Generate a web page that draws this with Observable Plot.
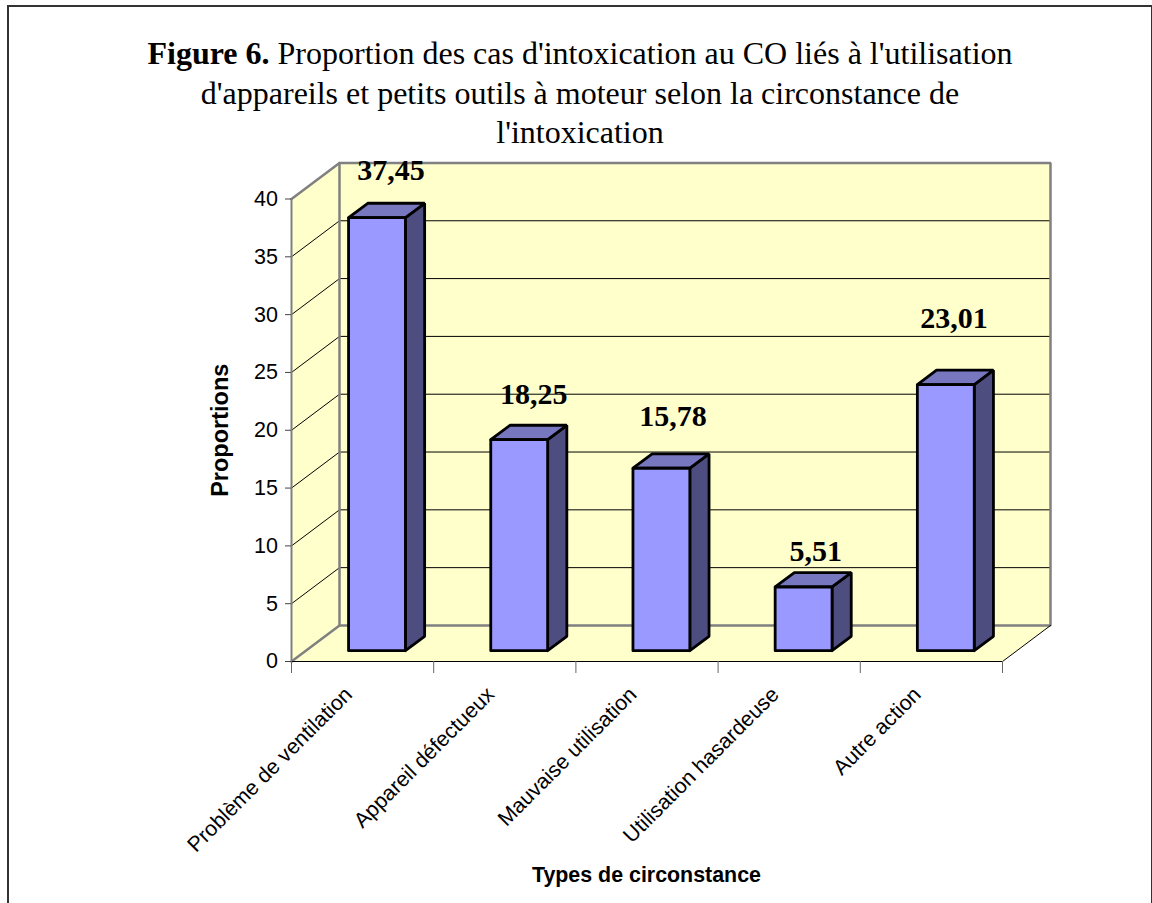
<!DOCTYPE html>
<html lang="fr">
<head>
<meta charset="utf-8">
<script src="https://cdn.jsdelivr.net/npm/d3@7"></script>
<script src="https://cdn.jsdelivr.net/npm/@observablehq/plot@0.6"></script>
<style>
html,body{margin:0;padding:0;background:#fff;}
#frame{position:absolute;left:7px;top:5px;width:1142px;height:898px;border:2px solid #333;border-bottom:none;pointer-events:none;}
#title{box-sizing:border-box;height:130px;padding:34px 0 0 8px;width:1152px;text-align:center;font-family:"Liberation Serif",serif;font-size:32px;line-height:39.5px;color:#000;overflow:visible;}
#chart svg{display:block;background:transparent;}
</style>
</head>
<body>
<div id="frame"></div>
<div id="title"><b>Figure 6.</b> Proportion des cas d'intoxication au CO liés à l'utilisation<br>d'appareils et petits outils à moteur selon la circonstance de<br>l'intoxication</div>
<div id="chart"></div>
<script>
const categories = ["Problème de ventilation","Appareil défectueux","Mauvaise utilisation","Utilisation hasardeuse","Autre action"];
const values = [37.45,18.25,15.78,5.51,23.01];
const valueLabels = ["37,45","18,25","15,78","5,51","23,01"];
const yTicks = [0,5,10,15,20,25,30,35,40];
const xBoundaries = [0,1,2,3,4,5];
const gridValues = [5,10,15,20,25,30,35];

// oblique projection of the 3D box, in scale units
const depthX = 48 / 142.2;
const depthY = 36 / 11.55;
const P = (x, d, v) => ({x: x + d * depthX, y: v + d * depthY});
const barHalf = 0.2, d0 = 0.3, d1 = 0.7;

// nudges of the hand-placed value labels (px)
const labelDx = [28.5,29,26,26.6,22.6];
const labelDy = [-58,-56.5,-62.5,-46.5,-77];

const face = (pts, o) => Plot.line([...pts, pts[0]], {x:"x", y:"y", strokeLinejoin:"miter", ...o});
const xMax = xBoundaries[xBoundaries.length-1], yMax = yTicks[yTicks.length-1];

const svgTop = 130;
const marks = [
  // floor, side wall, back wall
  face([P(0,0,0),P(xMax,0,0),P(xMax,1,0),P(0,1,0)], {fill:"#FFFFCC", stroke:"none"}),
  face([P(0,0,0),P(0,1,0),P(0,1,yMax),P(0,0,yMax)], {fill:"#FFFFCC", stroke:"none"}),
  face([P(0,1,0),P(xMax,1,0),P(xMax,1,yMax),P(0,1,yMax)], {fill:"#FFFFCC", stroke:"none"}),
  // gridlines
  Plot.link(gridValues, {x1:()=>P(0,0,0).x, y1:v=>P(0,0,v).y, x2:()=>P(0,1,0).x, y2:v=>P(0,1,v).y, stroke:"#000", strokeWidth:1}),
  Plot.link(gridValues, {x1:()=>P(0,1,0).x, y1:v=>P(0,1,v).y, x2:()=>P(xMax,1,0).x, y2:v=>P(xMax,1,v).y, stroke:"#000", strokeWidth:1}),
  // wall outlines
  Plot.line([P(0,0,yMax),P(0,1,yMax),P(xMax,1,yMax),P(xMax,1,0),P(0,1,0),P(0,0,0)], {x:"x",y:"y",stroke:"#808080",strokeWidth:2.5,strokeLinejoin:"miter"}),
  Plot.line([P(0,1,yMax),P(0,1,0)], {x:"x",y:"y",stroke:"#808080",strokeWidth:2.5}),
  Plot.line([P(0,0,yMax),P(0,0,0)], {x:"x",y:"y",stroke:"#808080",strokeWidth:2}),
  Plot.line([P(xMax,1,0),P(xMax,0,0)], {x:"x",y:"y",stroke:"#000",strokeWidth:1}),
  Plot.line([P(0,0,0),P(xMax,0,0)], {x:"x",y:"y",stroke:"#000",strokeWidth:1.2}),
  // axes
  Plot.axisX({ticks:xBoundaries, tickSize:12, tickFormat:()=>"", label:null, stroke:"#666"}),
  Plot.axisY({ticks:yTicks, tickSize:6, tickPadding:7.5, label:null, stroke:"#444", fill:"#000", fontSize:21.5}),
];
values.forEach((v,i) => {
  const c = i + 0.5, l = c - barHalf, r = c + barHalf;
  const common = {stroke:"#000", strokeWidth:2.8};
  marks.push(
    face([P(r,d0,0),P(r,d1,0),P(r,d1,v),P(r,d0,v)], {fill:"#4D4D80", ...common}),
    face([P(l,d0,v),P(r,d0,v),P(r,d1,v),P(l,d1,v)], {fill:"#7777BF", ...common}),
    face([P(l,d0,0),P(r,d0,0),P(r,d0,v),P(l,d0,v)], {fill:"#9999FF", ...common})
  );
});
marks.push(
  ...values.map((v,i)=>Plot.text([valueLabels[i]], {x:()=>i+0.5, y:()=>v, text:d=>d, dx:labelDx[i], dy:labelDy[i], fontFamily:"Liberation Serif", fontWeight:"bold", fontSize:30, fill:"#000"})),
  Plot.text(categories, {x:(d,i)=>i+0.5, y:()=>0, text:d=>d, rotate:-45, textAnchor:"end", dx:-14, dy:29.5, fontSize:21.3, fill:"#000"}),
  Plot.text(["Proportions"], {x:()=>-0.5, y:()=>20, text:d=>d, rotate:-90, fontWeight:"bold", fontSize:23.5, fill:"#000"}),
  Plot.text(["Types de circonstance"], {x:()=>2.496, y:()=>-18.5, text:d=>d, fontWeight:"bold", fontSize:21.4, fill:"#000"})
);
const plot = Plot.plot({
  width:1152, height:903-svgTop,
  marginLeft:291, marginRight:150, marginTop:198.5-svgTop, marginBottom:242,
  x:{domain:[0,xMax]}, y:{domain:[0,yMax]},
  style:{fontFamily:"Liberation Sans", fontSize:"21px", background:"transparent", color:"#000"},
  marks
});
document.getElementById("chart").appendChild(plot);
</script>
</body>
</html>
